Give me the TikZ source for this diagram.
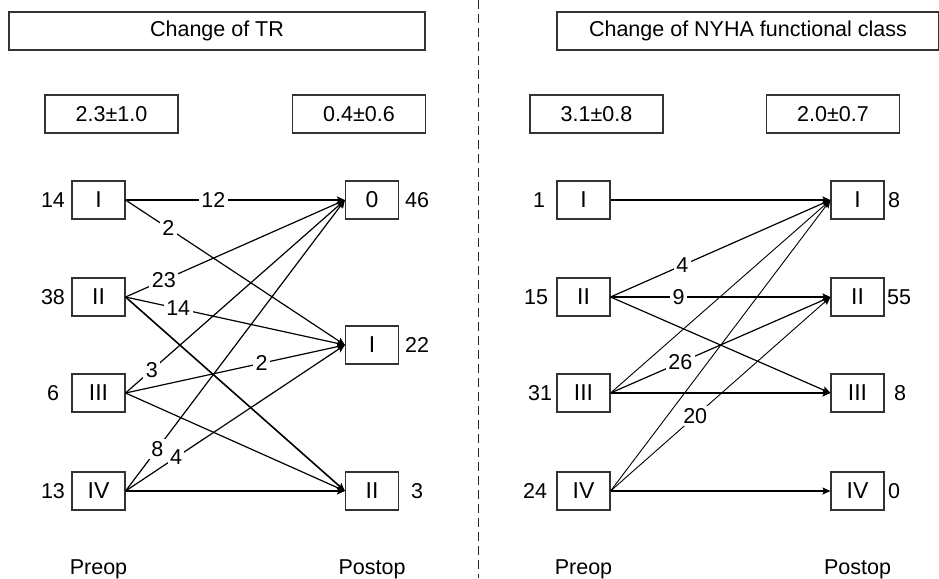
\documentclass[tikz,border=0pt]{standalone}
\usepackage{fontspec}
\setmainfont{Liberation Sans}
\usetikzlibrary{arrows.meta}

\tikzset{
  txt/.style={font=\fontsize{21.5}{26}\selectfont, inner sep=0pt},
  frame/.style={draw=black!80, line width=1.1pt, inner sep=0pt, font=\fontsize{21.5}{26}\selectfont},
  grade/.style={frame, minimum width=53pt, minimum height=38pt, font=\fontsize{23}{27}\selectfont},
  meanbox/.style={frame, minimum width=133pt, minimum height=38pt},
  flow/.style={line width=1.2pt, -{Stealth[length=8pt,width=7pt,inset=1.5pt]}},
  major/.style={flow, line width=2pt},
  medium/.style={flow, line width=1.6pt},
  minor/.style={flow, line width=0.9pt},
  lbl/.style={fill=white, inner sep=2.5pt, font=\fontsize{21.5}{26}\selectfont}
}

\begin{document}
\begin{tikzpicture}[x=1pt, y=-1pt]
\useasboundingbox (0,0) rectangle (939,578);

% separator between the two panels
\draw[black!85, line width=1pt, dash pattern=on 9pt off 5pt] (478,0) -- (478,578);

% ---------------- left panel: tricuspid regurgitation ----------------
\node[frame, minimum width=416pt, minimum height=38pt] (ltitle) at (217,31) {Change of TR};
\node[meanbox] (lmeanpre) at (111.5,114) {2.3±1.0};
\node[meanbox] (lmeanpost) at (359,114) {0.4±0.6};

\node[grade] (lp1) at (98.5,200) {I};
\node[grade] (lp2) at (98.5,297) {II};
\node[grade] (lp3) at (98.5,393) {III};
\node[grade] (lp4) at (98.5,491) {IV};

\node[grade] (lq0) at (372,200) {0};
\node[grade] (lq1) at (372,345) {I};
\node[grade] (lq2) at (372,491) {II};

\node[txt] (ln1) at (53,200) {14};
\node[txt] (ln2) at (53,297) {38};
\node[txt] (ln3) at (53,393) {6};
\node[txt] (ln4) at (53,491) {13};

\node[txt] (lm0) at (417,200) {46};
\node[txt] (lm1) at (417,345) {22};
\node[txt] (lm2) at (417,491) {3};

\draw[major] (lp1.east) -- node[lbl, pos=0.4] {12} (lq0.west);
\draw[flow]  (lp1.east) -- node[lbl, pos=0.195] {2} (lq1.west);
\draw[flow]  (lp2.east) -- node[lbl, pos=0.175] {23} (lq0.west);
\draw[flow]  (lp2.east) -- node[lbl, pos=0.24] {14} (lq1.west);
\draw[medium] (lp2.east) -- (lq2.west);
\draw[flow]  (lp3.east) -- node[lbl, pos=0.12] {3} (lq0.west);
\draw[flow]  (lp3.east) -- node[lbl, pos=0.62] {2} (lq1.west);
\draw[flow]  (lp3.east) -- (lq2.west);
\draw[flow]  (lp4.east) -- node[lbl, pos=0.145] {8} (lq0.west);
\draw[flow]  (lp4.east) -- node[lbl, pos=0.23] {4} (lq1.west);
\draw[major] (lp4.east) -- (lq2.west);

\node[txt, anchor=base] (lpre) at (98.5,574) {Preop};
\node[txt, anchor=base] (lpost) at (372,574) {Postop};

% ---------------- right panel: NYHA functional class ----------------
\node[frame, minimum width=382pt, minimum height=38pt] (rtitle) at (748,31) {Change of NYHA functional class};
\node[meanbox] (rmeanpre) at (596.5,114) {3.1±0.8};
\node[meanbox] (rmeanpost) at (833,114) {2.0±0.7};

\node[grade] (rp1) at (583.5,200) {I};
\node[grade] (rp2) at (583.5,297) {II};
\node[grade] (rp3) at (583.5,393) {III};
\node[grade] (rp4) at (583.5,491) {IV};

\node[grade] (rq1) at (857.5,200) {I};
\node[grade] (rq2) at (857.5,297) {II};
\node[grade] (rq3) at (857.5,393) {III};
\node[grade] (rq4) at (857.5,491) {IV};

\node[txt] (rn1) at (539,200) {1};
\node[txt] (rn2) at (536,297) {15};
\node[txt] (rn3) at (540,393) {31};
\node[txt] (rn4) at (535,491) {24};

\node[txt] (rm1) at (894,200) {8};
\node[txt] (rm2) at (899,297) {55};
\node[txt] (rm3) at (900,393) {8};
\node[txt] (rm4) at (894,491) {0};

\draw[major] (rp1.east) -- (rq1.west);
\draw[flow]  (rp2.east) -- node[lbl, pos=0.326] {4} (rq1.west);
\draw[major] (rp2.east) -- node[lbl, pos=0.31] {9} (rq2.west);
\draw[flow]  (rp2.east) -- (rq3.west);
\draw[minor] (rp3.east) -- (rq1.west);
\draw[flow]  (rp3.east) -- node[lbl, pos=0.317] {26} (rq2.west);
\draw[major] (rp3.east) -- (rq3.west);
\draw[minor] (rp4.east) -- (rq1.west);
\draw[minor] (rp4.east) -- node[lbl, pos=0.385] {20} (rq2.west);
\draw[major] (rp4.east) -- (rq4.west);

\node[txt, anchor=base] (rpre) at (583.5,574) {Preop};
\node[txt, anchor=base] (rpost) at (857.5,574) {Postop};
\end{tikzpicture}
\end{document}
